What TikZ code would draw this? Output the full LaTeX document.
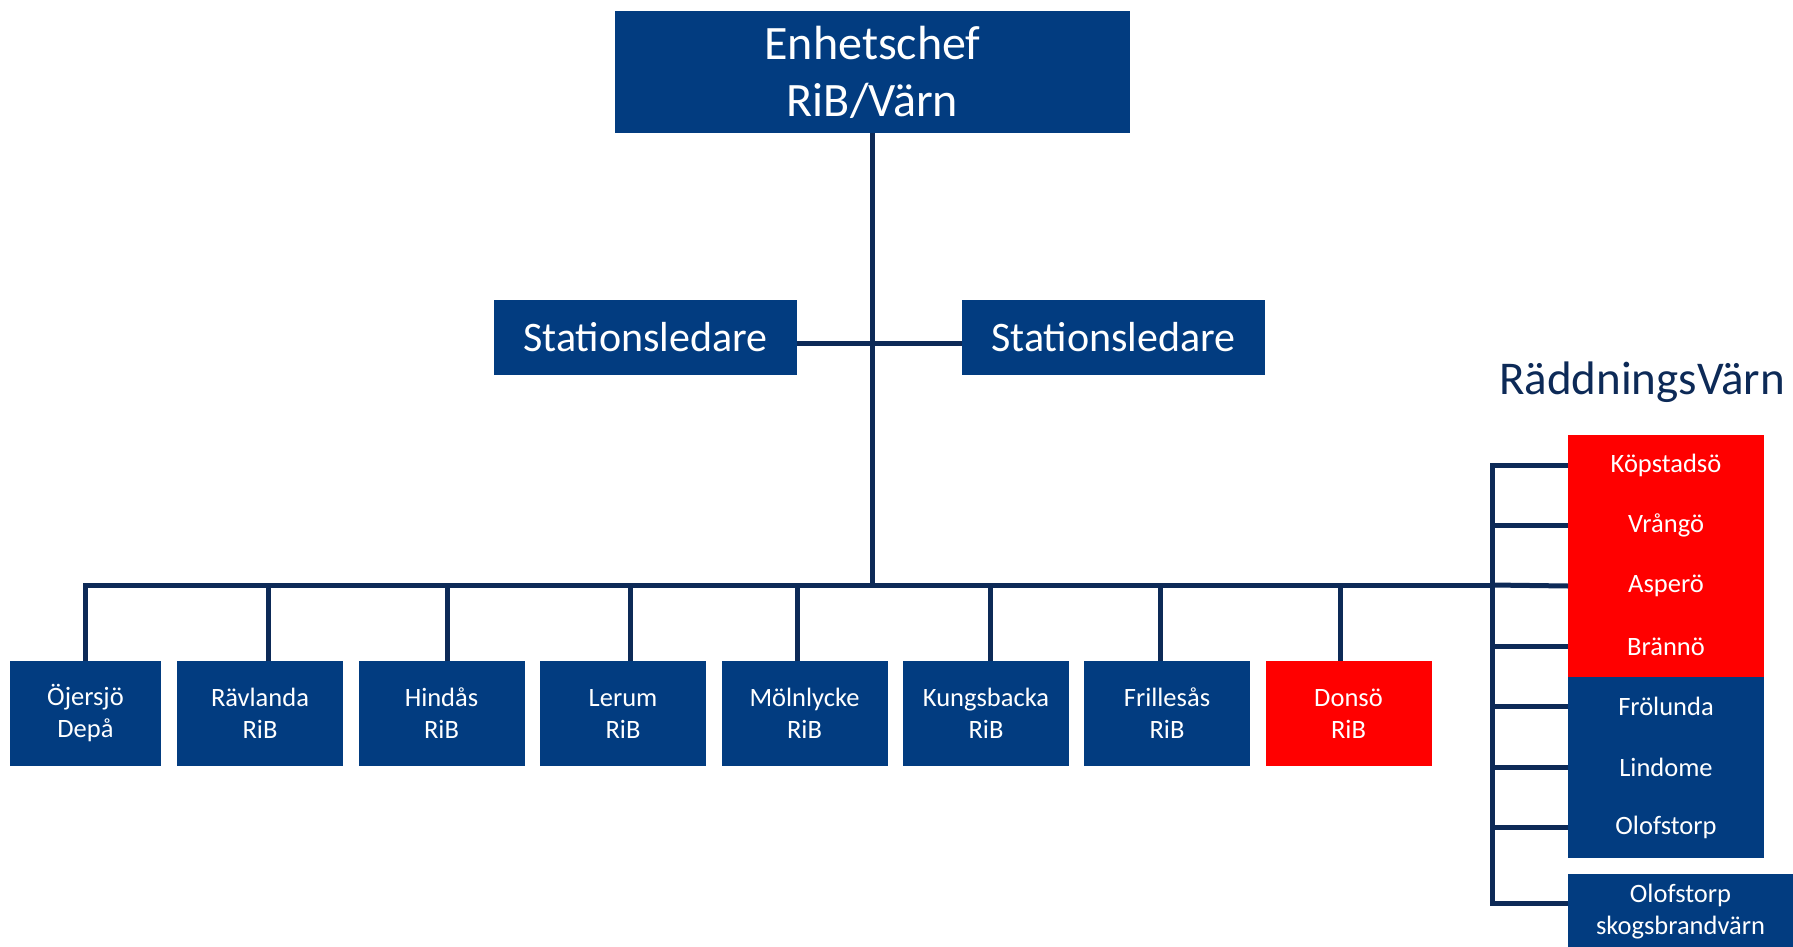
\documentclass[tikz,border=0pt]{standalone}
\usepackage{fontspec}
\setmainfont{Carlito}
\usepackage{tikz}
\usetikzlibrary{positioning}

\definecolor{boxblue}{RGB}{2,60,128}
\definecolor{boxred}{RGB}{255,0,0}
\definecolor{linenavy}{RGB}{13,42,87}

\begin{document}
\begin{tikzpicture}[x=1pt, y=-1pt,
    box/.style={fill=boxblue, text=white, align=center, inner sep=0pt, outer sep=0pt},
    redbox/.style={box, fill=boxred},
    big/.style={font=\fontsize{48}{57}\selectfont},
    mid/.style={font=\fontsize{42}{50}\selectfont},
    small/.style={font=\fontsize{26.5}{32}\selectfont},
    unit/.style={small, minimum width=166pt, minimum height=105pt},
    stack/.style={small, minimum width=196pt, minimum height=60.4pt},
    link/.style={draw=linenavy, line width=5pt}]
      \useasboundingbox (0,0) rectangle (1793,947);

      \node[box, big, minimum width=515pt, minimum height=122pt]  (E)   at ( 872.5,  72)    {Enhetschef\\RiB/Värn};
      \node[box, mid, minimum width=303pt, minimum height=75pt]   (SL1) at ( 645.5, 337.5)  {Stationsledare};
      \node[box, mid, minimum width=303pt, minimum height=75pt]   (SL2) at (1113.5, 337.5)  {Stationsledare};

      \node[box, unit, minimum width=151pt]  (OJ)  at (  85.5, 713.5)  {Öjersjö\\Depå};
      \node[box, unit]                       (RA)  at ( 260,   713.5)  {Rävlanda\\RiB};
      \node[box, unit]                       (HI)  at ( 441.5, 713.5)  {Hindås\\RiB};
      \node[box, unit]                       (LE)  at ( 623,   713.5)  {Lerum\\RiB};
      \node[box, unit]                       (MO)  at ( 804.5, 713.5)  {Mölnlycke\\RiB};
      \node[box, unit]                       (KU)  at ( 986,   713.5)  {Kungsbacka\\RiB};
      \node[box, unit]                       (FR)  at (1167,   713.5)  {Frillesås\\RiB};
      \node[redbox, unit]                    (DO)  at (1348.5, 713.5)  {Donsö\\RiB};

      % RäddningsVärn
      \node[text=linenavy, font=\fontsize{47}{56}\selectfont]  (RV)  at (1642, 382)  {RäddningsVärn};
      \node[redbox, stack]  (KO)  at (1666, 465.2)  {Köpstadsö};
      \node[redbox, stack]  (VR)  at (1666, 525.6)  {Vrångö};
      \node[redbox, stack]  (AS)  at (1666, 586.0)  {Asperö};
      \node[redbox, stack]  (BR)  at (1666, 646.4)  {Brännö};
      \node[box, stack]     (FL)  at (1666, 706.8)  {Frölunda};
      \node[box, stack]     (LI)  at (1666, 767.2)  {Lindome};
      \node[box, stack]     (OL)  at (1666, 827.6)  {Olofstorp};
      \node[box, small, minimum width=225pt, minimum height=76pt]  (SK)  at (1680.5, 912)  {Olofstorp\\skogsbrandvärn};

      \coordinate (busR) at (1492, 585);
      \coordinate (vb)   at (1492, 903);

      \draw[link] (E.south) -- (E.south |- busR);
      \draw[link] ([yshift=-6pt]SL1.east) -- ([yshift=-6pt]SL2.west);
      \draw[link] (OJ.north) |- (busR);

      \draw[link] ([xshift=8pt]RA.north |- busR) -- ([xshift=8pt]RA.north);
      \draw[link] ([xshift=6pt]HI.north |- busR) -- ([xshift=6pt]HI.north);
      \draw[link] ([xshift=7pt]LE.north |- busR) -- ([xshift=7pt]LE.north);
      \draw[link] ([xshift=-7pt]MO.north |- busR) -- ([xshift=-7pt]MO.north);
      \draw[link] ([xshift=4pt]KU.north |- busR) -- ([xshift=4pt]KU.north);
      \draw[link] ([xshift=-7pt]FR.north |- busR) -- ([xshift=-7pt]FR.north);
      \draw[link] ([xshift=-8pt]DO.north |- busR) -- ([xshift=-8pt]DO.north);

      \draw[link] (KO.west) -| (vb) -- (vb -| SK.west);
      \draw[link] (vb |- VR.west) -- (VR.west);
      \draw[link] (busR) -- (AS.west);
      \draw[link] (vb |- BR.west) -- (BR.west);
      \draw[link] (vb |- FL.west) -- (FL.west);
      \draw[link] (vb |- LI.west) -- (LI.west);
      \draw[link] (vb |- OL.west) -- (OL.west);
\end{tikzpicture}
\end{document}
